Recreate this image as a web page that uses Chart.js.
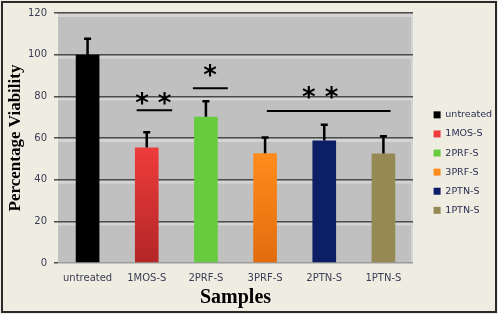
<!DOCTYPE html>
<html>
<head>
<meta charset="utf-8">
<script src="https://cdn.jsdelivr.net/npm/chart.js@4"></script>
<style>
  html, body { margin: 0; padding: 0; background: #efece2; }
  #wrap { width: 498px; height: 314px; }
</style>
</head>
<body>
<div id="wrap"><canvas id="chart-bars-viability" width="498" height="314"></canvas></div>
<script>
var samples = ["untreated", "1MOS-S", "2PRF-S", "3PRF-S", "2PTN-S", "1PTN-S"];
var viability = [100, 55.4, 70.2, 52.7, 58.8, 52.6];
var errorUp = [7.6, 7.4, 7.5, 7.5, 7.6, 8.2];
var yTicks = [0, 20, 40, 60, 80, 100, 120];

// significance brackets: from/to in category units, line level, star level
var sigFrom = [0.83, 1.78, 3.03];
var sigTo = [1.43, 2.37, 5.12];
var sigLevel = [73.3, 83.9, 73.0];
var sigStarLevel = [78.6, 92.0, 81.4];
var sigStarAt = [1.11, 2.07, 3.93];
var sigLabel = ["* *", "*", "* *"];

var colorsTop = ["#000000", "#ee3c3c", "#66cc3d", "#ff8c1c", "#0c1f66", "#958a54"];
var colorsBottom = ["#000000", "#b32626", "#66cc3d", "#e26c0e", "#0c1f66", "#958a54"];

var ctx = document.getElementById("chart-bars-viability").getContext("2d");

var plotBackground = {
  id: "plotBackground",
  beforeDraw: function (chart) {
    var c = chart.ctx, a = chart.chartArea, y = chart.scales.y;
    c.save();
    c.fillStyle = "#efece2";
    c.fillRect(0, 0, chart.width, chart.height);
    c.fillStyle = "#c0c0c0";
    c.fillRect(a.left, a.top, a.right - a.left, a.bottom - a.top);
    c.fillStyle = "#d4d4d4";
    yTicks.forEach(function (v) {
      if (v === 0) return;
      var py = y.getPixelForValue(v);
      c.fillRect(a.left, py + 1, a.right - a.left, 3);
    });
    c.fillRect(a.right - 2, a.top, 2, a.bottom - a.top);
    c.restore();
  },
  afterDraw: function (chart) {
    var c = chart.ctx;
    c.save();
    c.strokeStyle = "#2a2a2a";
    c.lineWidth = 2;
    c.strokeRect(2, 2, chart.width - 4, chart.height - 4);
    c.restore();
  },
};

var errorBars = {
  id: "errorBars",
  afterDatasetsDraw: function (chart) {
    var c = chart.ctx, y = chart.scales.y, x = chart.scales.x;
    var meta = chart.getDatasetMeta(0);
    c.save();
    c.strokeStyle = "#000";
    c.lineWidth = 2.5;
    meta.data.forEach(function (bar, i) {
      var top = y.getPixelForValue(viability[i] + errorUp[i]);
      c.beginPath();
      c.moveTo(bar.x, bar.y);
      c.lineTo(bar.x, top);
      c.moveTo(bar.x - 3.5, top);
      c.lineTo(bar.x + 3.5, top);
      c.stroke();
    });
    // significance marks
    var step = x.getPixelForValue(1) - x.getPixelForValue(0);
    var x0 = x.getPixelForValue(0);
    c.lineWidth = 2;
    c.fillStyle = "#000";
    c.font = "bold 26px 'DejaVu Sans'";
    c.textAlign = "center";
    c.textBaseline = "middle";
    for (var k = 0; k < sigLevel.length; k++) {
      var py = y.getPixelForValue(sigLevel[k]);
      c.beginPath();
      c.moveTo(x0 + sigFrom[k] * step, py);
      c.lineTo(x0 + sigTo[k] * step, py);
      c.stroke();
      c.fillText(sigLabel[k], x0 + sigStarAt[k] * step, y.getPixelForValue(sigStarLevel[k]) + 6);
    }
    c.restore();
  },
};

new Chart(ctx, {
  type: "bar",
  data: {
    labels: samples,
    datasets: [
      {
        label: "Percentage Viability",
        data: viability,
        borderWidth: 0,
        barPercentage: 0.4,
        categoryPercentage: 1,
        backgroundColor: function (context) {
          var chart = context.chart;
          var i = context.dataIndex;
          if (!chart.chartArea || colorsTop[i] === colorsBottom[i]) return colorsTop[i];
          var y = chart.scales.y;
          var g = chart.ctx.createLinearGradient(0, y.getPixelForValue(viability[i]), 0, y.getPixelForValue(0));
          g.addColorStop(0, colorsTop[i]);
          g.addColorStop(1, colorsBottom[i]);
          return g;
        },
      },
    ],
  },
  options: {
    responsive: false,
    animation: false,
    devicePixelRatio: 1,
    layout: {
      padding: { left: 3, right: 4, top: 6, bottom: 4 },
    },
    plugins: {
      legend: {
        display: true,
        position: "right",
        maxWidth: 70,
        title: {
          display: true,
          text: " ",
          font: { size: 1 },
          padding: 4,
        },
        labels: {
          boxWidth: 7,
          boxHeight: 7,
          padding: 9.6,
          color: "#2a2f52",
          font: { size: 9.5, family: "DejaVu Sans" },
          generateLabels: function (chart) {
            return samples.map(function (s, i) {
              return {
                text: s,
                fillStyle: colorsTop[i],
                strokeStyle: colorsTop[i],
                lineWidth: 0,
                fontColor: "#2a2f52",
                index: i,
              };
            });
          },
        },
      },
      tooltip: { enabled: false },
    },
    scales: {
      y: {
        min: 0,
        max: 120,
        afterBuildTicks: function (scale) {
          scale.ticks = yTicks.map(function (v) { return { value: v }; });
        },
        afterFit: function (scale) { scale.width = 55; },
        grid: {
          color: function (c) { return c.tick && c.tick.value === 0 ? "#9c9c9c" : "#4c4c4c"; },
          lineWidth: 1.5,
          tickLength: 4,
          tickColor: "#4c4c4c",
        },
        border: { display: false },
        ticks: {
          padding: 7,
          color: "#3a3d55",
          font: { size: 10, family: "DejaVu Sans" },
        },
        title: {
          display: true,
          text: "Percentage Viability",
          color: "#000",
          font: { size: 17, weight: "bold", family: "Liberation Serif" },
          padding: { top: 2, bottom: 3 },
        },
      },
      x: {
        afterFit: function (scale) { scale.height = 47; },
        grid: { display: false, drawTicks: false },
        border: { display: false },
        ticks: {
          padding: 9,
          color: "#3a3d55",
          font: { size: 10, family: "DejaVu Sans" },
        },
        title: {
          display: true,
          text: "Samples",
          color: "#000",
          font: { size: 20, weight: "bold", family: "Liberation Serif" },
          padding: { top: 2, bottom: 0 },
        },
      },
      gap: {
        position: "right",
        display: true,
        grid: { display: false },
        border: { display: false },
        ticks: { display: false },
        afterFit: function (scale) { scale.width = 11; },
      },
    },
  },
  plugins: [plotBackground, errorBars],
});
</script>
</body>
</html>
